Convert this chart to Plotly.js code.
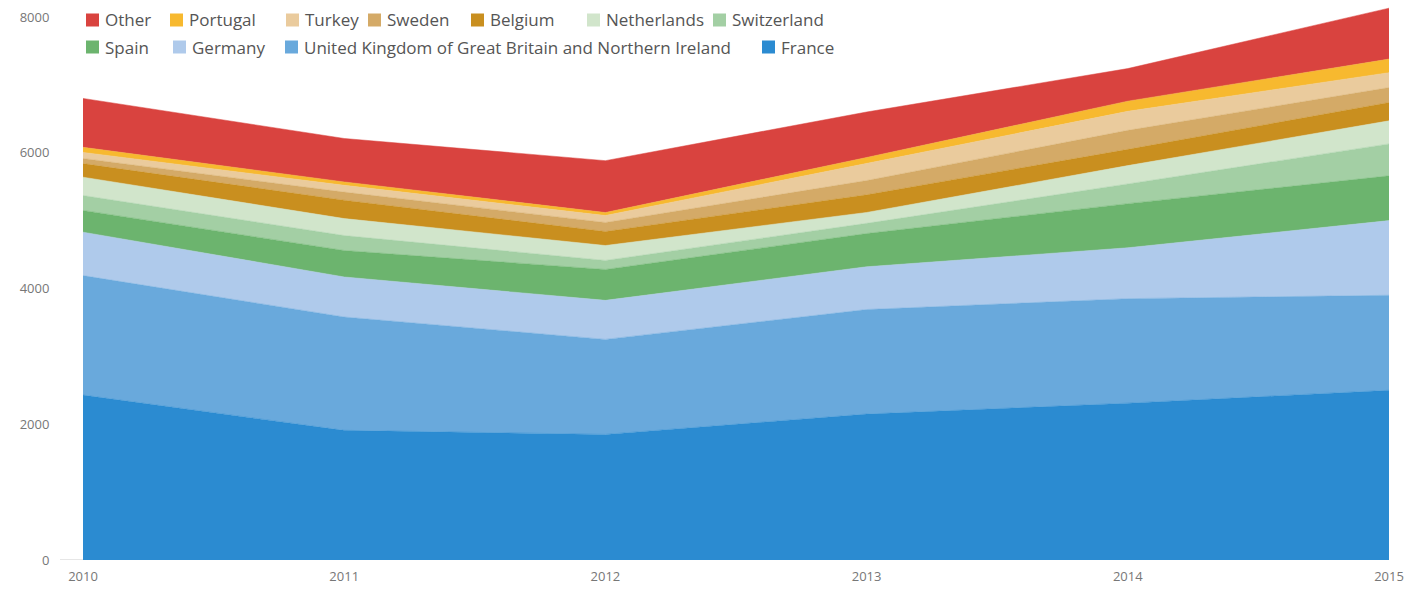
<!DOCTYPE html>
<html>
<head>
<meta charset="utf-8">
<script src="https://cdn.plot.ly/plotly-3.0.1.min.js"></script>
<style>html,body{margin:0;padding:0;background:#fff;}#chart{width:1407px;height:591px;}</style>
</head>
<body>
<div id="chart"></div>
<script>
// ---- data ----
const years = [2010, 2011, 2012, 2013, 2014, 2015];
const seriesNames = ["France", "United Kingdom of Great Britain and Northern Ireland", "Germany", "Spain", "Switzerland", "Netherlands", "Belgium", "Sweden", "Turkey", "Portugal", "Other"];
const france      = [2430, 1910, 1850, 2150, 2310, 2500];
const uk          = [1760, 1670, 1400, 1540, 1540, 1400];
const germany     = [640, 590, 575, 630, 750, 1100];
const spain       = [320, 390, 455, 490, 650, 660];
const switzerland = [220, 220, 133, 150, 290, 470];
const netherlands = [270, 250, 220, 160, 270, 340];
const belgium     = [200, 270, 206, 260, 240, 270];
const sweden      = [75, 120, 133, 210, 280, 220];
const turkey      = [90, 100, 103, 250, 280, 220];
const portugal    = [75, 50, 44, 90, 150, 200];
const other       = [720, 640, 764, 670, 480, 750];
const seriesValues = [france, uk, germany, spain, switzerland, netherlands, belgium, sweden, turkey, portugal, other];
const yTicks = [0, 2000, 4000, 6000, 8000];
const yTickLabels = ["0", "2000", "4000", "6000", "8000"];
const xTickLabels = ["2010", "2011", "2012", "2013", "2014", "2015"];

// ---- styling ----
const colors = {
  "France": "#2b8bd1",
  "United Kingdom of Great Britain and Northern Ireland": "#69a9dc",
  "Germany": "#afcaeb",
  "Spain": "#6cb46e",
  "Switzerland": "#a3cfa4",
  "Netherlands": "#d1e5cb",
  "Belgium": "#c98f1f",
  "Sweden": "#d4aa67",
  "Turkey": "#eacb9d",
  "Portugal": "#f7b92f",
  "Other": "#d9433f"
};
const FONT = "Open Sans, Noto Sans, sans-serif";

const traces = seriesNames.map((name, i) => ({
  type: "scatter",
  mode: "lines",
  name: name,
  x: years,
  y: seriesValues[i],
  stackgroup: "one",
  line: {width: 0.5, color: colors[name], shape: "linear"},
  fillcolor: colors[name],
  showlegend: false,
  hoverinfo: "x+y+name"
}));

// plot area in pixels
const L = 83, R = 18, T = 0, B = 31, W = 1407, H = 591;
const pw = W - L - R, ph = H - T - B;
const px = x => (x - L) / pw;
const py = y => (H - B - y) / ph;

// custom legend (swatch + text), laid out in two rows like the reference
const legendRows = [
  {y: 20, items: [["Other", 86], ["Portugal", 170], ["Turkey", 286], ["Sweden", 368], ["Belgium", 471], ["Netherlands", 587], ["Switzerland", 713]]},
  {y: 47, items: [["Spain", 86], ["Germany", 173], ["United Kingdom of Great Britain and Northern Ireland", 285], ["France", 762]]}
];
const shapes = [];
const annotations = [];
legendRows.forEach(row => {
  row.items.forEach(([name, x0]) => {
    shapes.push({type: "rect", xref: "paper", yref: "paper",
      x0: px(x0), x1: px(x0 + 13), y0: py(row.y + 6.5), y1: py(row.y - 6.5),
      fillcolor: colors[name], line: {width: 0}, layer: "above"});
    annotations.push({xref: "paper", yref: "paper", x: px(x0 + 17), y: py(row.y),
      xanchor: "left", yanchor: "middle", showarrow: false, text: name,
      font: {family: FONT, size: 17, color: "#555555"}});
  });
});
// short grey tick at zero
shapes.push({type: "line", xref: "paper", yref: "y", x0: px(60), x1: px(83), y0: 0, y1: 0,
  line: {color: "#cccccc", width: 1}});

const layout = {
  width: W, height: H,
  margin: {l: L, r: R, t: T, b: B, pad: 0},
  paper_bgcolor: "#ffffff",
  plot_bgcolor: "#ffffff",
  showlegend: false,
  font: {family: FONT, color: "#777777", size: 13},
  xaxis: {
    range: [2010, 2015],
    tickvals: years, ticktext: xTickLabels,
    showgrid: false, zeroline: false, showline: false,
    ticks: "outside", ticklen: 4, tickcolor: "rgba(0,0,0,0)",
    tickfont: {family: FONT, size: 13, color: "#777777"},
    fixedrange: true
  },
  yaxis: {
    range: [0, 8250],
    tickvals: yTicks, ticktext: yTickLabels,
    showgrid: false, zeroline: false, showline: false,
    ticks: "outside", ticklen: 30, tickcolor: "rgba(0,0,0,0)",
    tickfont: {family: FONT, size: 13, color: "#777777"},
    fixedrange: true
  },
  shapes: shapes,
  annotations: annotations
};

Plotly.newPlot("chart", traces, layout, {displayModeBar: false, staticPlot: true});
</script>
</body>
</html>
